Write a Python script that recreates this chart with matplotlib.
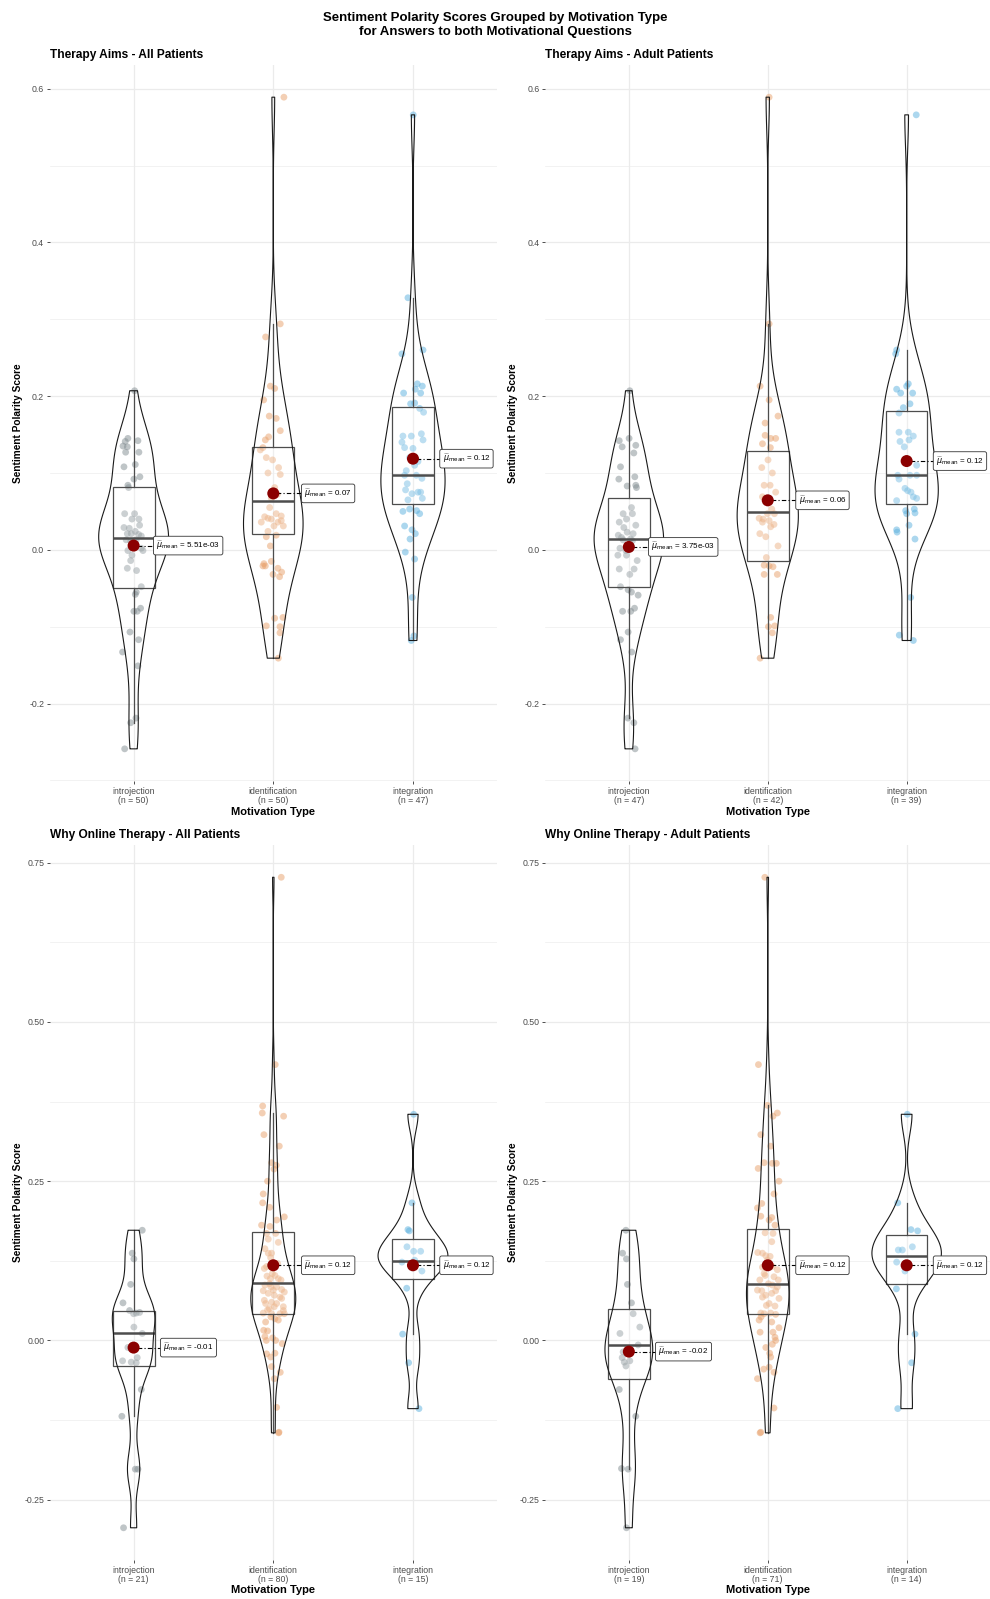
import numpy as np
import matplotlib.pyplot as plt

plt.rcParams['font.family'] = ['Liberation Sans', 'DejaVu Sans']

categories = ['introjection', 'identification', 'integration']
point_colors = ['#818C91', '#E8A16B', '#5BB0DE']

# ---- Therapy Aims - All Patients ----
aims_all_intro = [0.207, 0.145, 0.141, 0.135, 0.134, 0.127, 0.142, 0.127, 0.108, 0.111,
                  0.092, 0.095, 0.084, 0.081, 0.047, 0.040, 0.040, 0.032, 0.029, 0.028,
                  0.021, 0.021, 0.024, 0.013, 0.011, 0.013, 0.018, 0.002, -0.001, -0.007,
                  -0.014, -0.024, -0.027, -0.048, -0.055, -0.058, -0.076, -0.080, -0.080, -0.107,
                  -0.117, -0.133, -0.151, -0.225, -0.219, -0.259, 0.009, 0.020, -0.001, 0.047]
aims_all_intro_dx = [0.007, -0.041, -0.060, -0.076, -0.045, -0.057, 0.031, 0.038, -0.069, 0.012,
                     0.002, 0.045, -0.041, -0.036, -0.064, -0.012, 0.038, 0.043, -0.069, -0.031,
                     -0.045, -0.017, 0.012, -0.053, -0.021, 0.019, 0.055, 0.055, 0.067, -0.012,
                     -0.021, -0.045, 0.021, 0.055, 0.019, 0.012, 0.050, 0.002, 0.026, -0.026,
                     0.036, -0.079, 0.031, -0.021, 0.017, -0.064, -0.010, 0.036, -0.041, 0.007]
aims_all_ident = [0.589, 0.294, 0.277, 0.213, 0.210, 0.195, 0.174, 0.155, 0.147, 0.143,
                  0.133, 0.130, 0.117, 0.107, 0.098, 0.100, 0.081, 0.072, 0.055, 0.043,
                  0.040, 0.036, 0.038, 0.031, 0.031, 0.017, 0.005, -0.021, -0.021, -0.032,
                  -0.035, -0.029, -0.088, -0.099, -0.100, -0.108, -0.141, 0.047, 0.024, 0.044,
                  0.036, -0.015, 0.019, 0.120, -0.024, 0.041, -0.089, 0.067, 0.171, -0.018]
aims_all_ident_dx = [0.076, 0.050, -0.055, -0.021, 0.010, -0.069, -0.029, 0.050, -0.033, -0.057,
                     -0.074, -0.093, -0.005, 0.038, 0.050, -0.038, 0.010, 0.029, -0.026, -0.062,
                     -0.014, 0.033, 0.057, 0.005, 0.072, -0.050, -0.021, -0.057, -0.074, -0.002,
                     0.045, 0.060, 0.069, -0.050, 0.048, 0.048, 0.036, 0.021, -0.038, 0.057,
                     -0.086, -0.014, 0.021, -0.050, 0.033, -0.038, 0.010, -0.014, 0.021, -0.067]
aims_all_integ = [0.566, 0.328, 0.255, 0.260, 0.204, 0.216, 0.209, 0.213, 0.204, 0.190,
                  0.191, 0.184, 0.179, 0.148, 0.148, 0.151, 0.143, 0.140, 0.133, 0.132,
                  0.103, 0.110, 0.097, 0.093, 0.097, 0.078, 0.073, 0.075, 0.067, 0.075,
                  0.065, 0.050, 0.053, 0.051, 0.031, 0.026, 0.021, 0.014, -0.003, -0.062,
                  -0.112, -0.118, -0.012, 0.120, 0.115, 0.086, 0.047]
aims_all_integ_dx = [0.002, -0.036, -0.079, 0.072, -0.067, 0.031, 0.017, 0.067, 0.055, -0.017,
                     0.012, 0.048, 0.076, -0.072, -0.012, 0.060, 0.072, -0.079, -0.060, 0.000,
                     -0.048, 0.012, -0.060, 0.064, 0.024, -0.053, -0.007, 0.036, 0.067, 0.055,
                     -0.036, -0.072, -0.024, 0.026, -0.060, -0.007, 0.017, -0.021, -0.055, -0.005,
                     0.007, -0.012, 0.012, -0.024, 0.036, -0.041, 0.048]

# ---- Therapy Aims - Adult Patients ----
aims_adult_intro = [0.207, 0.142, 0.134, 0.145, 0.136, 0.126, 0.108, 0.092, 0.095, 0.083,
                    0.081, 0.084, 0.055, 0.047, 0.040, 0.032, 0.036, 0.029, 0.023, 0.019,
                    0.016, 0.014, 0.002, -0.001, -0.014, -0.007, -0.025, -0.025, -0.048, -0.052,
                    -0.055, -0.059, -0.080, -0.080, -0.076, -0.107, -0.117, -0.133, -0.219, -0.225,
                    -0.259, 0.047, 0.012, -0.007, -0.032, 0.013, 0.021]
aims_adult_intro_dx = [0.007, -0.069, -0.048, 0.002, 0.050, 0.036, -0.060, -0.072, 0.043, -0.012,
                       0.055, 0.050, 0.019, 0.026, -0.017, 0.050, -0.069, -0.036, -0.012, -0.076,
                       -0.053, 0.012, -0.064, -0.021, 0.060, -0.079, 0.038, -0.069, -0.060, -0.005,
                       0.019, 0.067, -0.045, 0.014, 0.041, -0.005, -0.060, 0.021, -0.007, 0.036,
                       0.045, -0.041, 0.026, -0.017, 0.007, -0.041, 0.031]
aims_adult_ident = [0.589, 0.294, 0.213, 0.195, 0.174, 0.149, 0.145, 0.145, 0.138, 0.133,
                    0.117, 0.107, 0.084, 0.084, 0.075, 0.067, 0.041, 0.040, 0.038, 0.033,
                    0.036, 0.030, 0.017, 0.005, -0.020, -0.021, -0.022, -0.032, -0.032, -0.088,
                    -0.099, -0.108, -0.141, 0.100, 0.047, 0.021, 0.053, -0.010, 0.047, 0.069,
                    -0.100, 0.165]
aims_adult_ident_dx = [0.010, 0.010, -0.055, 0.010, 0.074, -0.019, 0.021, 0.057, -0.038, 0.019,
                       0.002, -0.043, -0.026, 0.017, 0.057, -0.021, -0.062, -0.033, 0.010, 0.045,
                       -0.038, 0.021, -0.014, 0.074, -0.026, 0.010, 0.038, -0.026, 0.069, 0.021,
                       0.050, 0.033, -0.055, 0.033, -0.002, -0.057, 0.029, -0.010, 0.048, -0.038,
                       0.005, -0.019]
aims_adult_integ = [0.566, 0.260, 0.255, 0.209, 0.204, 0.213, 0.216, 0.204, 0.190, 0.185,
                    0.178, 0.153, 0.153, 0.148, 0.141, 0.143, 0.134, 0.110, 0.097, 0.097,
                    0.097, 0.092, 0.080, 0.077, 0.075, 0.069, 0.067, 0.064, 0.051, 0.053,
                    0.048, 0.032, 0.026, 0.023, 0.014, -0.062, -0.111, -0.118, 0.047]
aims_adult_integ_dx = [0.069, -0.072, -0.079, -0.072, -0.043, 0.000, 0.012, 0.043, 0.024, -0.024,
                       -0.055, -0.055, 0.012, 0.048, -0.048, 0.017, -0.017, 0.072, -0.064, 0.024,
                       0.072, -0.055, -0.012, 0.007, 0.031, 0.048, 0.072, -0.072, -0.007, 0.055,
                       0.060, 0.017, -0.072, -0.069, 0.060, 0.029, -0.053, 0.048, 0.000]

# ---- Why Online Therapy - All Patients ----
online_all_intro = [0.173, 0.137, 0.128, 0.088, 0.059, 0.047, 0.043, 0.044, 0.021, 0.011,
                    -0.032, -0.034, -0.027, -0.035, -0.077, -0.119, -0.202, -0.202, -0.294, -0.011,
                    0.042]
online_all_intro_dx = [0.062, -0.010, 0.002, -0.021, -0.076, -0.029, 0.019, 0.043, 0.002, 0.062,
                       -0.079, -0.017, 0.026, 0.019, 0.055, -0.084, 0.012, 0.031, -0.072, -0.041,
                       0.000]
online_all_ident = [0.433, 0.368, 0.357, 0.352, 0.323, 0.305, 0.279, 0.275, 0.269, 0.250,
                    0.230, 0.216, 0.209, 0.194, 0.181, 0.168, 0.168, 0.159, 0.154, 0.137,
                    0.130, 0.113, 0.101, 0.097, 0.102, 0.097, 0.087, 0.084, 0.084, 0.080,
                    0.078, 0.074, 0.071, 0.068, 0.076, 0.063, 0.060, 0.058, 0.053, 0.048,
                    0.042, 0.042, 0.043, 0.042, 0.034, 0.029, 0.016, 0.015, 0.006, 0.000,
                    0.004, -0.005, -0.020, -0.026, -0.041, -0.050, -0.060, -0.105, -0.144, 0.047,
                    0.058, 0.089, 0.079, 0.066, 0.121, 0.137, 0.179, 0.189, 0.144, 0.037,
                    0.032, -0.021, 0.000, 0.050, 0.095, 0.053, 0.116, 0.105, 0.727, -0.145]
online_all_ident_dx = [0.014, -0.076, -0.079, 0.074, -0.067, 0.043, -0.012, 0.021, 0.005, -0.041,
                       -0.072, -0.076, -0.026, 0.079, -0.084, -0.048, 0.017, -0.036, 0.036, -0.012,
                       -0.019, -0.064, -0.045, -0.021, 0.012, 0.036, -0.060, -0.017, 0.024, 0.060,
                       -0.072, -0.036, 0.007, 0.048, 0.079, -0.064, -0.012, 0.024, 0.072, -0.041,
                       0.048, 0.079, -0.072, -0.012, 0.012, -0.055, -0.069, -0.041, -0.060, -0.050,
                       -0.005, 0.064, 0.012, -0.019, -0.012, 0.050, 0.007, 0.024, 0.041, 0.072,
                       -0.055, -0.026, 0.000, 0.060, 0.031, -0.036, -0.024, 0.024, -0.060, -0.017,
                       0.036, -0.048, 0.017, -0.029, 0.055, 0.007, -0.048, -0.007, 0.057, 0.038]
online_all_integ = [0.355, 0.216, 0.174, 0.172, 0.147, 0.140, 0.140, 0.123, 0.121, 0.109,
                    0.082, 0.010, -0.035, -0.107, 0.126]
online_all_integ_dx = [0.005, -0.007, -0.036, -0.026, -0.043, 0.005, 0.055, -0.079, 0.000, 0.064,
                       -0.045, -0.074, -0.031, 0.043, 0.012]

# ---- Why Online Therapy - Adult Patients ----
online_adult_intro = [0.173, 0.137, 0.128, 0.088, 0.059, 0.042, 0.021, 0.011, -0.007, -0.027,
                      -0.034, -0.040, -0.032, -0.077, -0.119, -0.201, -0.202, -0.294, -0.018]
online_adult_intro_dx = [-0.021, -0.045, -0.017, -0.010, 0.019, 0.031, 0.079, -0.064, 0.067, -0.048,
                         -0.033, -0.021, 0.007, -0.069, 0.050, -0.053, -0.005, -0.017, -0.041]
online_adult_ident = [0.433, 0.369, 0.357, 0.352, 0.323, 0.305, 0.279, 0.278, 0.278, 0.270,
                      0.250, 0.230, 0.215, 0.208, 0.195, 0.193, 0.181, 0.169, 0.168, 0.155,
                      0.138, 0.133, 0.132, 0.115, 0.111, 0.102, 0.100, 0.095, 0.089, 0.095,
                      0.078, 0.074, 0.078, 0.071, 0.066, 0.079, 0.058, 0.054, 0.043, 0.042,
                      0.043, 0.041, 0.032, 0.020, 0.013, 0.013, 0.005, 0.000, -0.006, -0.020,
                      -0.026, -0.045, -0.050, -0.060, -0.106, -0.144, 0.137, 0.126, 0.116, 0.055,
                      0.068, 0.084, -0.042, -0.011, 0.029, 0.189, 0.037, 0.087, 0.727, -0.145,
                      0.105]
online_adult_ident_dx = [-0.067, -0.002, 0.069, 0.038, -0.050, 0.021, -0.026, 0.033, 0.062, -0.069,
                         0.081, 0.045, -0.043, -0.074, -0.050, 0.029, 0.052, -0.019, 0.038, 0.029,
                         -0.072, -0.014, 0.017, -0.038, 0.069, -0.019, 0.045, -0.057, 0.005, 0.076,
                         -0.043, 0.029, 0.057, -0.014, 0.081, -0.074, 0.010, 0.052, -0.050, -0.026,
                         0.021, 0.057, -0.062, 0.081, -0.055, 0.038, 0.052, 0.057, 0.033, 0.014,
                         0.021, -0.029, 0.045, -0.074, 0.045, -0.050, -0.038, -0.002, 0.033, -0.010,
                         -0.038, 0.069, 0.010, -0.014, 0.029, 0.010, -0.048, 0.033, -0.021, -0.055,
                         -0.026]
online_adult_integ = [0.355, 0.216, 0.174, 0.172, 0.147, 0.142, 0.142, 0.123, 0.116, 0.109,
                      0.081, 0.010, -0.035, -0.107]
online_adult_integ_dx = [0.005, -0.064, 0.031, 0.079, 0.041, -0.060, -0.031, -0.072, 0.000, -0.012,
                         -0.074, 0.060, 0.036, -0.064]

# box statistics per group: (lower whisker, q1, median, q3, upper whisker)
aims_all_box = [(-0.225, -0.050, 0.016, 0.082, 0.207),
                (-0.141, 0.020, 0.063, 0.134, 0.294),
                (-0.118, 0.060, 0.097, 0.186, 0.328)]
aims_adult_box = [(-0.219, -0.049, 0.014, 0.067, 0.207),
                  (-0.141, -0.014, 0.049, 0.128, 0.294),
                  (-0.118, 0.060, 0.097, 0.181, 0.260)]
online_all_box = [(-0.119, -0.040, 0.011, 0.047, 0.173),
                  (-0.145, 0.042, 0.090, 0.171, 0.357),
                  (0.010, 0.096, 0.125, 0.159, 0.216)]
online_adult_box = [(-0.202, -0.060, -0.007, 0.050, 0.173),
                    (-0.145, 0.042, 0.088, 0.175, 0.369),
                    (0.010, 0.088, 0.132, 0.166, 0.216)]

aims_all_means = [0.00551, 0.0734, 0.1186]
aims_adult_means = [0.00375, 0.0644, 0.1155]
online_all_means = [-0.0112, 0.118, 0.118]
online_adult_means = [-0.0175, 0.118, 0.118]


def nrd0(x):
    x = np.asarray(x)
    iqr = np.subtract(*np.percentile(x, [75, 25]))
    lo = min(np.std(x, ddof=1), iqr / 1.34)
    return 0.9 * lo * len(x) ** (-0.2)


def density(x):
    x = np.asarray(x)
    bw = nrd0(x)
    grid = np.linspace(x.min(), x.max(), 512)
    z = (grid[:, None] - x[None, :]) / bw
    d = np.exp(-0.5 * z ** 2).sum(axis=1) / (len(x) * bw * np.sqrt(2 * np.pi))
    return grid, d


def fmt_mean(m):
    if abs(m) < 0.01:
        return f'{m:.2e}'
    return f'{m:.2f}'


def draw_panel(ax, title, groups, offsets, box, means, nudges, ticks, ticklabels, minor):
    pos = np.arange(1, 4)
    ax.set_xlim(0.4, 3.6)
    allv = np.concatenate([np.asarray(g) for g in groups])
    span = allv.max() - allv.min()
    ax.set_ylim(allv.min() - 0.05 * span, allv.max() + 0.05 * span)

    for y in ticks:
        ax.axhline(y, color='#EBEBEB', lw=0.9, zorder=0)
    for y in minor:
        ax.axhline(y, color='#EBEBEB', lw=0.45, zorder=0)
    for p in pos:
        ax.axvline(p, color='#EBEBEB', lw=0.9, zorder=0)

    # jittered raw points
    for p, g, dx, c in zip(pos, groups, offsets, point_colors):
        ax.scatter(p + np.asarray(dx), g, s=24, color=c, alpha=0.5,
                   edgecolors='none', zorder=2)

    # boxes
    stats = [dict(whislo=b[0], q1=b[1], med=b[2], q3=b[3], whishi=b[4]) for b in box]
    ax.bxp(stats, positions=pos, widths=0.3, showfliers=False, showcaps=False,
           patch_artist=True,
           boxprops=dict(facecolor=(1, 1, 1, 0.2), edgecolor='#4D4D4D', lw=0.9),
           whiskerprops=dict(color='#4D4D4D', lw=0.9),
           medianprops=dict(color='#4D4D4D', lw=1.8), zorder=3)

    # violins, scaled by area across the panel
    dens = [density(g) for g in groups]
    dmax = max(d.max() for _, d in dens)
    for p, (grid, d) in zip(pos, dens):
        w = d / dmax * 0.25
        ax.fill_betweenx(grid, p - w, p + w, facecolor='none',
                         edgecolor='#1A1A1A', lw=0.8, zorder=4)

    # means with labels
    for p, m, nd in zip(pos, means, nudges):
        lx = p + nd
        ax.plot([p, lx], [m, m], color='black', lw=0.8,
                linestyle=(0, (1, 2, 4, 2)), zorder=5)
        ax.scatter([p], [m], s=75, color='#8B0000', zorder=6, edgecolors='none')
        ax.text(lx + 0.012, m, r'$\widehat{\mu}_{\mathrm{mean}}$' + ' = ' + fmt_mean(m),
                fontsize=5.8, va='center', ha='left', zorder=7,
                bbox=dict(boxstyle='round,pad=0.35,rounding_size=0.25', fc='white',
                          ec='#333333', lw=0.6))

    ax.set_xticks(pos)
    ax.set_xticklabels([f'{c}\n(n = {len(g)})' for c, g in zip(categories, groups)],
                       fontsize=6.3, color='#4D4D4D', linespacing=1.0)
    ax.set_yticks(ticks)
    ax.set_yticklabels(ticklabels, fontsize=6.3, color='#4D4D4D')
    ax.tick_params(axis='both', length=2.5, width=0.6, color='#333333', pad=1.5)
    for s in ax.spines.values():
        s.set_visible(False)

    ax.set_title(title, loc='left', fontsize=8.6, fontweight='bold', pad=5)
    ax.set_xlabel('Motivation Type', fontsize=8, fontweight='bold')
    ax.xaxis.set_label_coords(0.5, -0.035)
    ax.set_ylabel('Sentiment Polarity Score', fontsize=7.3, fontweight='bold')
    ax.yaxis.set_label_coords(-0.061, 0.5)


fig = plt.figure(figsize=(9.9, 15.99), dpi=100)
ax1 = fig.add_axes([0.0503, 0.5113, 0.4515, 0.4483])
ax2 = fig.add_axes([0.5510, 0.5113, 0.4490, 0.4483])
ax3 = fig.add_axes([0.0503, 0.0242, 0.4515, 0.4475])
ax4 = fig.add_axes([0.5510, 0.0242, 0.4490, 0.4475])

top_ticks = [-0.2, 0.0, 0.2, 0.4, 0.6]
top_labels = ['-0.2', '0.0', '0.2', '0.4', '0.6']
top_minor = [-0.3, -0.1, 0.1, 0.3, 0.5]
bot_ticks = [-0.25, 0.0, 0.25, 0.5, 0.75]
bot_labels = ['-0.25', '0.00', '0.25', '0.50', '0.75']
bot_minor = [-0.125, 0.125, 0.375, 0.625]

draw_panel(ax1, 'Therapy Aims - All Patients',
           [aims_all_intro, aims_all_ident, aims_all_integ],
           [aims_all_intro_dx, aims_all_ident_dx, aims_all_integ_dx],
           aims_all_box, aims_all_means, [0.15, 0.21, 0.20],
           top_ticks, top_labels, top_minor)
draw_panel(ax2, 'Therapy Aims - Adult Patients',
           [aims_adult_intro, aims_adult_ident, aims_adult_integ],
           [aims_adult_intro_dx, aims_adult_ident_dx, aims_adult_integ_dx],
           aims_adult_box, aims_adult_means, [0.15, 0.21, 0.20],
           top_ticks, top_labels, top_minor)
draw_panel(ax3, 'Why Online Therapy - All Patients',
           [online_all_intro, online_all_ident, online_all_integ],
           [online_all_intro_dx, online_all_ident_dx, online_all_integ_dx],
           online_all_box, online_all_means, [0.20, 0.21, 0.20],
           bot_ticks, bot_labels, bot_minor)
draw_panel(ax4, 'Why Online Therapy - Adult Patients',
           [online_adult_intro, online_adult_ident, online_adult_integ],
           [online_adult_intro_dx, online_adult_ident_dx, online_adult_integ_dx],
           online_adult_box, online_adult_means, [0.20, 0.21, 0.20],
           bot_ticks, bot_labels, bot_minor)

fig.text(0.5, 1 - 12 / 1599,
         'Sentiment Polarity Scores Grouped by Motivation Type\n'
         'for Answers to both Motivational Questions',
         ha='center', va='top', fontsize=9.5, fontweight='bold', linespacing=1.2)

fig.savefig('out.png', dpi=100, facecolor='white')
